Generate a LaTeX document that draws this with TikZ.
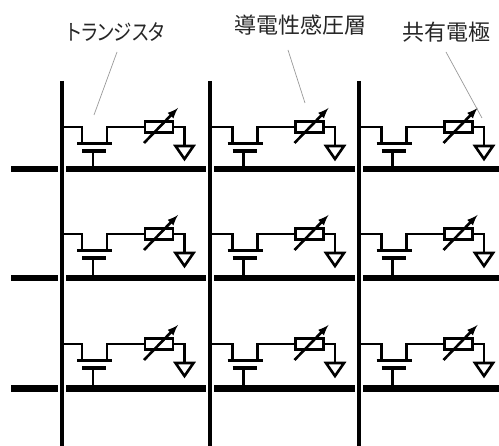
\documentclass[tikz,border=0pt]{standalone}
\usepackage{fontspec}
\setmainfont{Noto Sans CJK JP}[RawFeature=+palt]
\newfontfamily\kanafont{Noto Sans CJK JP}[RawFeature=+palt,FakeStretch=0.84]
\usetikzlibrary{calc}
\usetikzlibrary{arrows}
\usetikzlibrary{positioning}
\tikzset{%
  wire/.style={line width=2.6pt,black},
  dataline/.style={line width=3.3pt,black},
  gateline/.style={line width=6.2pt,black},
  leader/.style={line width=0.7pt,black!40},
  toplabel/.style={font=\fontsize{22}{24}\selectfont,text=black!85,inner sep=0pt},
  varres/.style={rectangle,draw,line width=2.6pt,minimum width=28pt,minimum height=11pt,inner sep=0pt},
}
% one cell of the array, #1 = name, #2 = x of the data line, #3 = x of the cell, #4 = y of the cell, #5 = y of the gate line
\newcommand*\mycell[5]{
    \coordinate (#1-tap) at (#2,#4-42);
    \coordinate (#1-dl) at (#3+20,#4-42);
    \coordinate (#1-d) at (#3+20,#4-25.5);
    \coordinate (#1-sl) at (#3+15,#4-25.5);
    \coordinate (#1-sr) at (#3+50,#4-25.5);
    \coordinate (#1-s) at (#3+45,#4-25.5);
    \coordinate (#1-su) at (#3+45,#4-42);
    \coordinate (#1-gl) at (#3+20,#4-18);
    \coordinate (#1-gr) at (#3+44,#4-18);
    \coordinate (#1-g) at (#3+31,#4-18);
    \coordinate (#1-gb) at (#3+31,#5);
    \coordinate (#1-rr) at (#3+122.5,#4-42);
    \coordinate (#1-ea) at (#3+122.5,#4-23);
    \coordinate (#1-el) at (#3+113.5,#4-23);
    \coordinate (#1-er) at (#3+131.5,#4-23);
    \coordinate (#1-ex) at (#3+122.5,#4-10);
    \coordinate (#1-al) at (#3+82,#4-26);
    \coordinate (#1-ah) at (#3+116,#4-61);
    \node[varres] (#1-r) at (#3+97,#4-42) {};
    \draw[wire] (#1-tap) -- (#1-dl) -- (#1-d);
    \draw[wire] (#1-sl) -- (#1-sr);
    \draw[wire] (#1-s) -- (#1-su) -- (#1-r.west);
    \draw[line width=4.2pt] (#1-gl) -- (#1-gr);
    \draw[wire] (#1-g) -- (#1-gb);
    \draw[wire] (#1-r.east) -- (#1-rr) -- (#1-ea);
    \draw[wire] (#1-el) -- (#1-er) -- (#1-ex) -- cycle;
    \draw[line width=2.6pt,-latex] (#1-al) -- (#1-ah);
}

\begin{document}
\begin{tikzpicture}[x=1pt,y=-1pt]
    \useasboundingbox (0,0) rectangle (499,446);
    \foreach \ybar/\ycell/\row in {169/169/a,278/276/b,388.5/386/c}{
        \foreach \xline/\xcell/\col in {62/62/a,210/212.5/b,359/361.5/c}{
            \mycell{\row\col}{\xline}{\xcell}{\ycell}{\ybar}
        }
        \coordinate (\row-0) at (11,\ybar);
        \coordinate (\row-1) at (58,\ybar);
        \coordinate (\row-2) at (66,\ybar);
        \coordinate (\row-3) at (206,\ybar);
        \coordinate (\row-4) at (214,\ybar);
        \coordinate (\row-5) at (355,\ybar);
        \coordinate (\row-6) at (363,\ybar);
        \coordinate (\row-7) at (499,\ybar);
        \draw[gateline] (\row-0) -- (\row-1);
        \draw[gateline] (\row-2) -- (\row-3);
        \draw[gateline] (\row-4) -- (\row-5);
        \draw[gateline] (\row-6) -- (\row-7);
    }
    \foreach \xline/\col in {62/a,210/b,359/c}{
        \coordinate (top-\col) at (\xline,81);
        \coordinate (bot-\col) at (\xline,446);
        \draw[dataline] (top-\col) -- (bot-\col);
    }
    \node[toplabel] (tr) at (116,32) {\kanafont トランジスタ};
    \node[toplabel] (layer) at (300,25.5) {導電性感圧層};
    \node[toplabel] (com) at (446,32) {共有電極};
    \coordinate (trend) at (94,115);
    \coordinate (trstart) at (117,52);
    \coordinate (layerend) at (305,103);
    \coordinate (layerstart) at (288,50);
    \coordinate (comend) at (482,118);
    \coordinate (comstart) at (446,52);
    \draw[leader] (trstart) -- (trend);
    \draw[leader] (layerstart) -- (layerend);
    \draw[leader] (comstart) -- (comend);
\end{tikzpicture}
\end{document}
